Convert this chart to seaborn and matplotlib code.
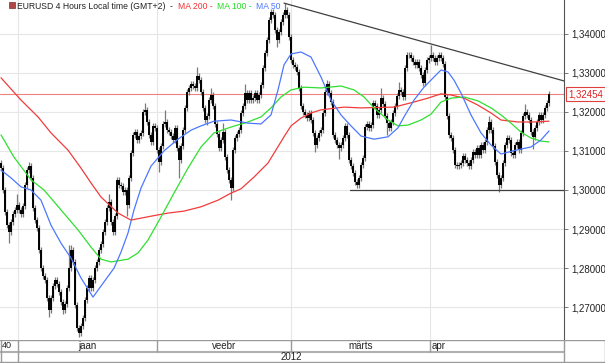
import numpy as np
import matplotlib
matplotlib.use("Agg")
import matplotlib.pyplot as plt
import seaborn as sns
from matplotlib.ticker import FuncFormatter
from matplotlib.patches import Rectangle

# EURUSD 4h candles, values in pips above BASE
BASE = 1.30000
first_open = 70
close_pips = [56, 0, -56, -90, -107, -82, -61, -51, -38, -51, -61, -41, 13, 51, 61, 31, -46, -77, -97, -153,
              -200, -220, -230, -276, -307, -276, -246, -230, -240, -261, -286, -307, -292, -251, -200, -153, -184, -294, -353, -366,
              -348, -327, -281, -251, -225, -251, -230, -200, -184, -153, -138, -107, -82, -46, -31, -82, -107, -67, 26, 13,
              10, -5, 0, -38, 31, 95, 141, 148, 128, 138, 146, 200, 205, 174, 141, 123, 164, 159, 102, 72,
              113, 169, 174, 153, 148, 138, 128, 159, 107, 77, 113, 153, 210, 251, 261, 271, 266, 261, 292, 281,
              251, 210, 179, 189, 230, 243, 215, 169, 143, 107, 128, 148, 84, 51, 26, 5, 102, 133, 143, 153,
              197, 215, 248, 230, 248, 230, 235, 248, 230, 243, 269, 312, 350, 384, 435, 455, 448, 409, 384, 404,
              430, 448, 460, 448, 391, 333, 320, 315, 302, 261, 215, 200, 192, 184, 197, 179, 146, 115, 133, 146,
              153, 197, 251, 271, 248, 225, 141, 128, 115, 107, 115, 133, 164, 141, 77, 61, 43, 20, 13, 31,
              64, 82, 161, 169, 159, 166, 223, 215, 192, 205, 235, 220, 189, 171, 159, 174, 197, 215, 240, 256,
              251, 238, 312, 345, 345, 338, 327, 320, 327, 312, 294, 274, 307, 333, 338, 345, 338, 327, 338, 345,
              338, 322, 238, 189, 141, 133, 102, 64, 61, 64, 69, 87, 77, 69, 61, 77, 97, 90, 107, 90,
              115, 102, 123, 153, 174, 153, 113, 72, 38, 13, 31, 69, 115, 133, 128, 95, 90, 115, 123, 102,
              146, 189, 200, 192, 179, 148, 136, 159, 174, 192, 179, 192, 210, 223, 245]
high_pips = [78, 64, 8, -48, -82, -74, -53, -43, -10, -30, -43, -33, 21, 59, 72, 69, 39, -38, -69, -89,
             -145, -192, -212, -222, -268, -268, -238, -222, -222, -232, -253, -278, -284, -243, -140, -140, -145, -176, -286, -345,
             -340, -319, -273, -243, -217, -217, -222, -192, -176, -145, -130, -99, -74, -38, -10, -23, -74, -59, 34, 34,
             21, 18, 8, 8, 39, 103, 149, 156, 156, 146, 154, 208, 222, 213, 182, 149, 172, 172, 167, 110,
             121, 177, 205, 182, 161, 156, 146, 167, 167, 115, 121, 161, 218, 259, 269, 279, 279, 274, 315, 300,
             289, 259, 218, 197, 238, 262, 251, 223, 177, 151, 136, 171, 156, 92, 59, 34, 110, 141, 151, 161,
             205, 223, 270, 256, 256, 256, 243, 256, 256, 251, 277, 320, 358, 392, 443, 463, 463, 456, 417, 412,
             438, 456, 478, 468, 456, 399, 341, 328, 323, 310, 269, 223, 208, 200, 205, 205, 187, 154, 141, 154,
             161, 205, 259, 282, 279, 256, 233, 149, 136, 123, 123, 141, 172, 172, 149, 85, 69, 51, 28, 39,
             72, 90, 169, 177, 177, 174, 231, 231, 223, 213, 262, 243, 228, 197, 179, 182, 205, 223, 248, 275,
             264, 259, 320, 353, 353, 353, 346, 335, 335, 335, 320, 302, 315, 341, 346, 371, 353, 346, 346, 353,
             353, 346, 330, 246, 197, 149, 141, 110, 72, 72, 77, 95, 95, 85, 77, 85, 105, 105, 115, 115,
             123, 123, 131, 161, 190, 182, 161, 121, 80, 46, 39, 77, 123, 141, 141, 136, 103, 123, 131, 131,
             154, 197, 220, 208, 200, 187, 156, 167, 182, 200, 200, 200, 218, 231, 252]
low_pips = [48, -8, -64, -98, -135, -115, -90, -69, -59, -59, -69, -69, -49, 5, 43, 23, -54, -85, -105, -161,
            -208, -228, -238, -284, -325, -315, -284, -254, -248, -269, -294, -318, -315, -300, -259, -208, -192, -302, -361, -376,
            -374, -356, -335, -289, -259, -259, -259, -238, -208, -192, -161, -146, -115, -90, -54, -90, -115, -115, -75, 5,
            2, -13, -13, -66, -46, 23, 87, 133, 120, 120, 130, 138, 192, 166, 133, 115, 115, 151, 94, 45,
            64, 105, 161, 145, 140, 130, 120, 120, 99, 30, 69, 105, 145, 202, 243, 253, 258, 253, 253, 273,
            243, 202, 171, 165, 181, 222, 207, 161, 135, 99, 99, 120, 76, 43, 18, -26, -3, 94, 125, 135,
            145, 189, 207, 222, 222, 222, 222, 227, 222, 222, 235, 261, 304, 342, 376, 427, 440, 401, 365, 376,
            396, 422, 440, 440, 383, 325, 312, 307, 294, 253, 207, 192, 184, 176, 176, 171, 138, 97, 107, 125,
            138, 145, 189, 243, 240, 217, 133, 120, 107, 80, 99, 107, 125, 133, 69, 53, 35, 12, 5, 5,
            23, 56, 74, 153, 151, 151, 158, 207, 184, 184, 197, 212, 181, 140, 151, 151, 166, 189, 207, 232,
            243, 230, 230, 304, 337, 330, 319, 312, 312, 304, 286, 266, 266, 299, 325, 330, 330, 319, 319, 330,
            330, 314, 230, 181, 133, 125, 94, 56, 53, 53, 56, 61, 69, 61, 53, 53, 69, 82, 82, 82,
            82, 94, 94, 115, 145, 145, 105, 64, 30, -5, 5, 23, 61, 107, 120, 87, 82, 82, 107, 94,
            94, 138, 181, 184, 171, 140, 105, 128, 151, 166, 171, 171, 184, 202, 215]

# moving averages (candle index, pips above BASE)
ma200_x = [0, 10, 18.5, 25, 33.5, 40, 45, 50, 58.5, 65, 75, 83.5, 91.5, 100, 108.5, 115, 120, 126.5, 133.5, 141.5,
           145, 150, 155, 160, 171.5, 180, 196.5, 205, 213.5, 220, 225, 231.5, 238.5, 245, 250, 258.5, 266.5, 274]
ma200_p = [287, 230, 187, 146, 102, 56, 18, -18, -59, -77, -67, -59, -54, -43, -26, -8, 3, 33, 69, 136,
           164, 184, 197, 205, 212, 210, 212, 223, 235, 246, 243, 235, 217, 197, 179, 174, 174, 176]
ma100_x = [0, 6.5, 15, 21.5, 30, 38.5, 45, 50, 55, 63.5, 68.5, 73.5, 80, 86.5, 93.5, 100, 106.5, 115, 123.5, 130,
           135, 140, 145, 151.5, 160, 170, 176.5, 181.5, 186.5, 193.5, 198.5, 203.5, 210, 215, 220, 225, 231.5,
           238.5, 245, 250, 255, 260, 265, 270, 274]
ma100_p = [141, 84, 26, 0, -51, -102, -146, -177, -184, -177, -161, -128, -69, -8, 56, 110, 146, 161, 174, 187,
           210, 238, 256, 263, 261, 266, 256, 238, 210, 179, 164, 166, 179, 194, 225, 235, 238,
           228, 210, 192, 171, 148, 133, 125, 123]
ma50_x = [0, 5, 10, 15, 20, 25, 30, 35, 40, 46, 51.5, 56.5, 60, 63.5, 66.5, 70, 75, 81.5, 88.5, 95,
          100, 106.5, 115, 123.5, 130, 135, 138.5, 141.5, 145, 150, 155, 160, 165, 170, 175, 180, 186.5, 193.5,
          198.5, 201.5, 206.5, 211.5, 216.5, 220, 223.5, 226.5, 230, 235, 240, 245, 250, 257.5, 265, 270, 274]
ma50_p = [51, 31, 8, 0, -26, -90, -136, -174, -225, -274, -235, -200, -159, -110, -51, 5, 61, 100, 130, 153,
          164, 176, 179, 171, 169, 192, 256, 320, 348, 353, 340, 289, 230, 192, 164, 138, 130, 136,
          159, 187, 230, 263, 289, 307, 302, 281, 248, 192, 146, 115, 92, 102, 110, 128, 151]

last_price = 1.32454
trend_x = [141.5, 281.5]
trend_p = [478, 279]
support_x = [174.5, 281.5]
support_p = [0, 0]

month_names = ["40", "jaan", "veebr", "märts", "apr"]
month_edges = [8.5, 78, 145, 214.5, 281.5]   # start of jaan, veebr, märts, apr, right edge
year_label = "2012"
yticks = [1.27, 1.28, 1.29, 1.30, 1.31, 1.32, 1.33, 1.34]

sns.set_style("white")
plt.rcParams['font.family'] = ['Liberation Sans', 'DejaVu Sans']

def px(p):
    return BASE + np.asarray(p, dtype=float) / 10000.0

closes = px(close_pips)
opens = np.concatenate([[px(first_open)], closes[:-1]])
highs = px(high_pips)
lows = px(low_pips)
idx = np.arange(len(closes))

fig = plt.figure(figsize=(6.05, 3.63), dpi=100)
ax = fig.add_axes([0, 23 / 363, 564 / 605, 340 / 363])

ax.set_xlim(-0.5, 281.5)
ax.set_ylim(1.26163, 1.34860)
ax.set_axisbelow(True)
ax.set_xticks(month_edges[:-1])
ax.set_yticks(yticks)
ax.grid(True, color="#e6e6e6", lw=0.8)
ax.tick_params(axis="x", length=0, labelbottom=False)
ax.yaxis.tick_right()
ax.tick_params(axis="y", length=3, width=0.6, color="#666666", pad=2, labelsize=7, labelcolor="#222222")
ax.yaxis.set_major_formatter(FuncFormatter(lambda v, _: f"{v:.5f}".replace(".", ",")))
for s in ["left", "top", "bottom"]:
    ax.spines[s].set_visible(False)
ax.spines["right"].set_linestyle((0, (1, 1)))
ax.spines["right"].set_color("#555555")
ax.spines["right"].set_linewidth(0.8)

# current price line
ax.axhline(last_price, color="#f08080", lw=0.8, zorder=1)

# candles
ax.vlines(idx, lows, highs, color="#7a7a7a", lw=0.9, zorder=2)
ax.vlines(idx, opens, closes, color="black", lw=1.4, zorder=2)

# moving averages
sns.lineplot(x=ma200_x, y=px(ma200_p), color="#f03c3c", lw=0.9, ax=ax, estimator=None, sort=False, zorder=3)
sns.lineplot(x=ma100_x, y=px(ma100_p), color="#2fe02f", lw=0.9, ax=ax, estimator=None, sort=False, zorder=3)
sns.lineplot(x=ma50_x, y=px(ma50_p), color="#4d78ff", lw=0.9, ax=ax, estimator=None, sort=False, zorder=3)

# trend lines
ax.plot(trend_x, px(trend_p), color="#404040", lw=0.9, zorder=4)
ax.plot(support_x, px(support_p), color="#404040", lw=0.9, zorder=4)
ax.set_xlabel("")
ax.set_ylabel("")

# price tag on axis
ax.annotate(f"{last_price:.5f}".replace(".", ","), xy=(1.0, last_price),
            xycoords=("axes fraction", "data"), xytext=(3, 0), textcoords="offset points",
            va="center", ha="left", fontsize=7, color="#e02020", annotation_clip=False,
            bbox=dict(boxstyle="square,pad=0.25", fc="white", ec="#e04040", lw=0.8))

# header
ax.add_patch(Rectangle((9 / 564, 1 - 8 / 340), 6 / 564, 6 / 340, transform=ax.transAxes,
                       fc="#b04848", ec="#7a3030", lw=0.5, zorder=5))
hy = 1 - 6.5 / 340
hfs = 6.2
ax.text(17 / 564, hy, "EURUSD 4 Hours Local time (GMT+2)", transform=ax.transAxes,
        fontsize=hfs, color="#222222", va="center", ha="left", zorder=5)
ax.text(170 / 564, hy, "-", transform=ax.transAxes, fontsize=hfs, color="#222222", va="center", zorder=5)
ax.text(178 / 564, hy, "MA 200 -", transform=ax.transAxes, fontsize=hfs, color="#f03030", va="center", zorder=5)
ax.text(217 / 564, hy, "MA 100 -", transform=ax.transAxes, fontsize=hfs, color="#22dd22", va="center", zorder=5)
ax.text(256 / 564, hy, "MA 50", transform=ax.transAxes, fontsize=hfs, color="#4d78ff", va="center", zorder=5)

# bottom date band
axb = fig.add_axes([0, 0, 1, 23 / 363])
axb.set_xlim(-0.5, 302)
axb.set_ylim(0, 23)
axb.axis("off")
lc = "#9a9a9a"
axb.plot([-0.5, 302], [22.7, 22.7], color=lc, lw=1)
axb.plot([-0.5, 281.5], [11.5, 11.5], color="#b0b0b0", lw=1.5)
axb.plot([-0.5, 302], [0.6, 0.6], color=lc, lw=1)
axb.vlines(month_edges, 11.5, 23, color=lc, lw=1)
axb.vlines([month_edges[0], month_edges[-1]], 0, 11.5, color=lc, lw=1)
axb.vlines([-0.25, 301.75], 0, 23, color=lc, lw=1)
for i, name in enumerate(month_names):
    if i == 0:
        axb.text(0.3, 17, name, ha="left", va="center", fontsize=6.5, color="#222222")
    elif i == len(month_names) - 1:
        axb.text(month_edges[i - 1] + 0.8, 17, name, ha="left", va="center", fontsize=7, color="#222222")
    else:
        axb.text((month_edges[i - 1] + month_edges[i]) / 2, 17, name, ha="center", va="center",
                 fontsize=7, color="#222222")
axb.text((month_edges[0] + month_edges[-1]) / 2, 5.8, year_label, ha="center", va="center",
         fontsize=7, color="#222222")

fig.savefig("out.png", dpi=100)
